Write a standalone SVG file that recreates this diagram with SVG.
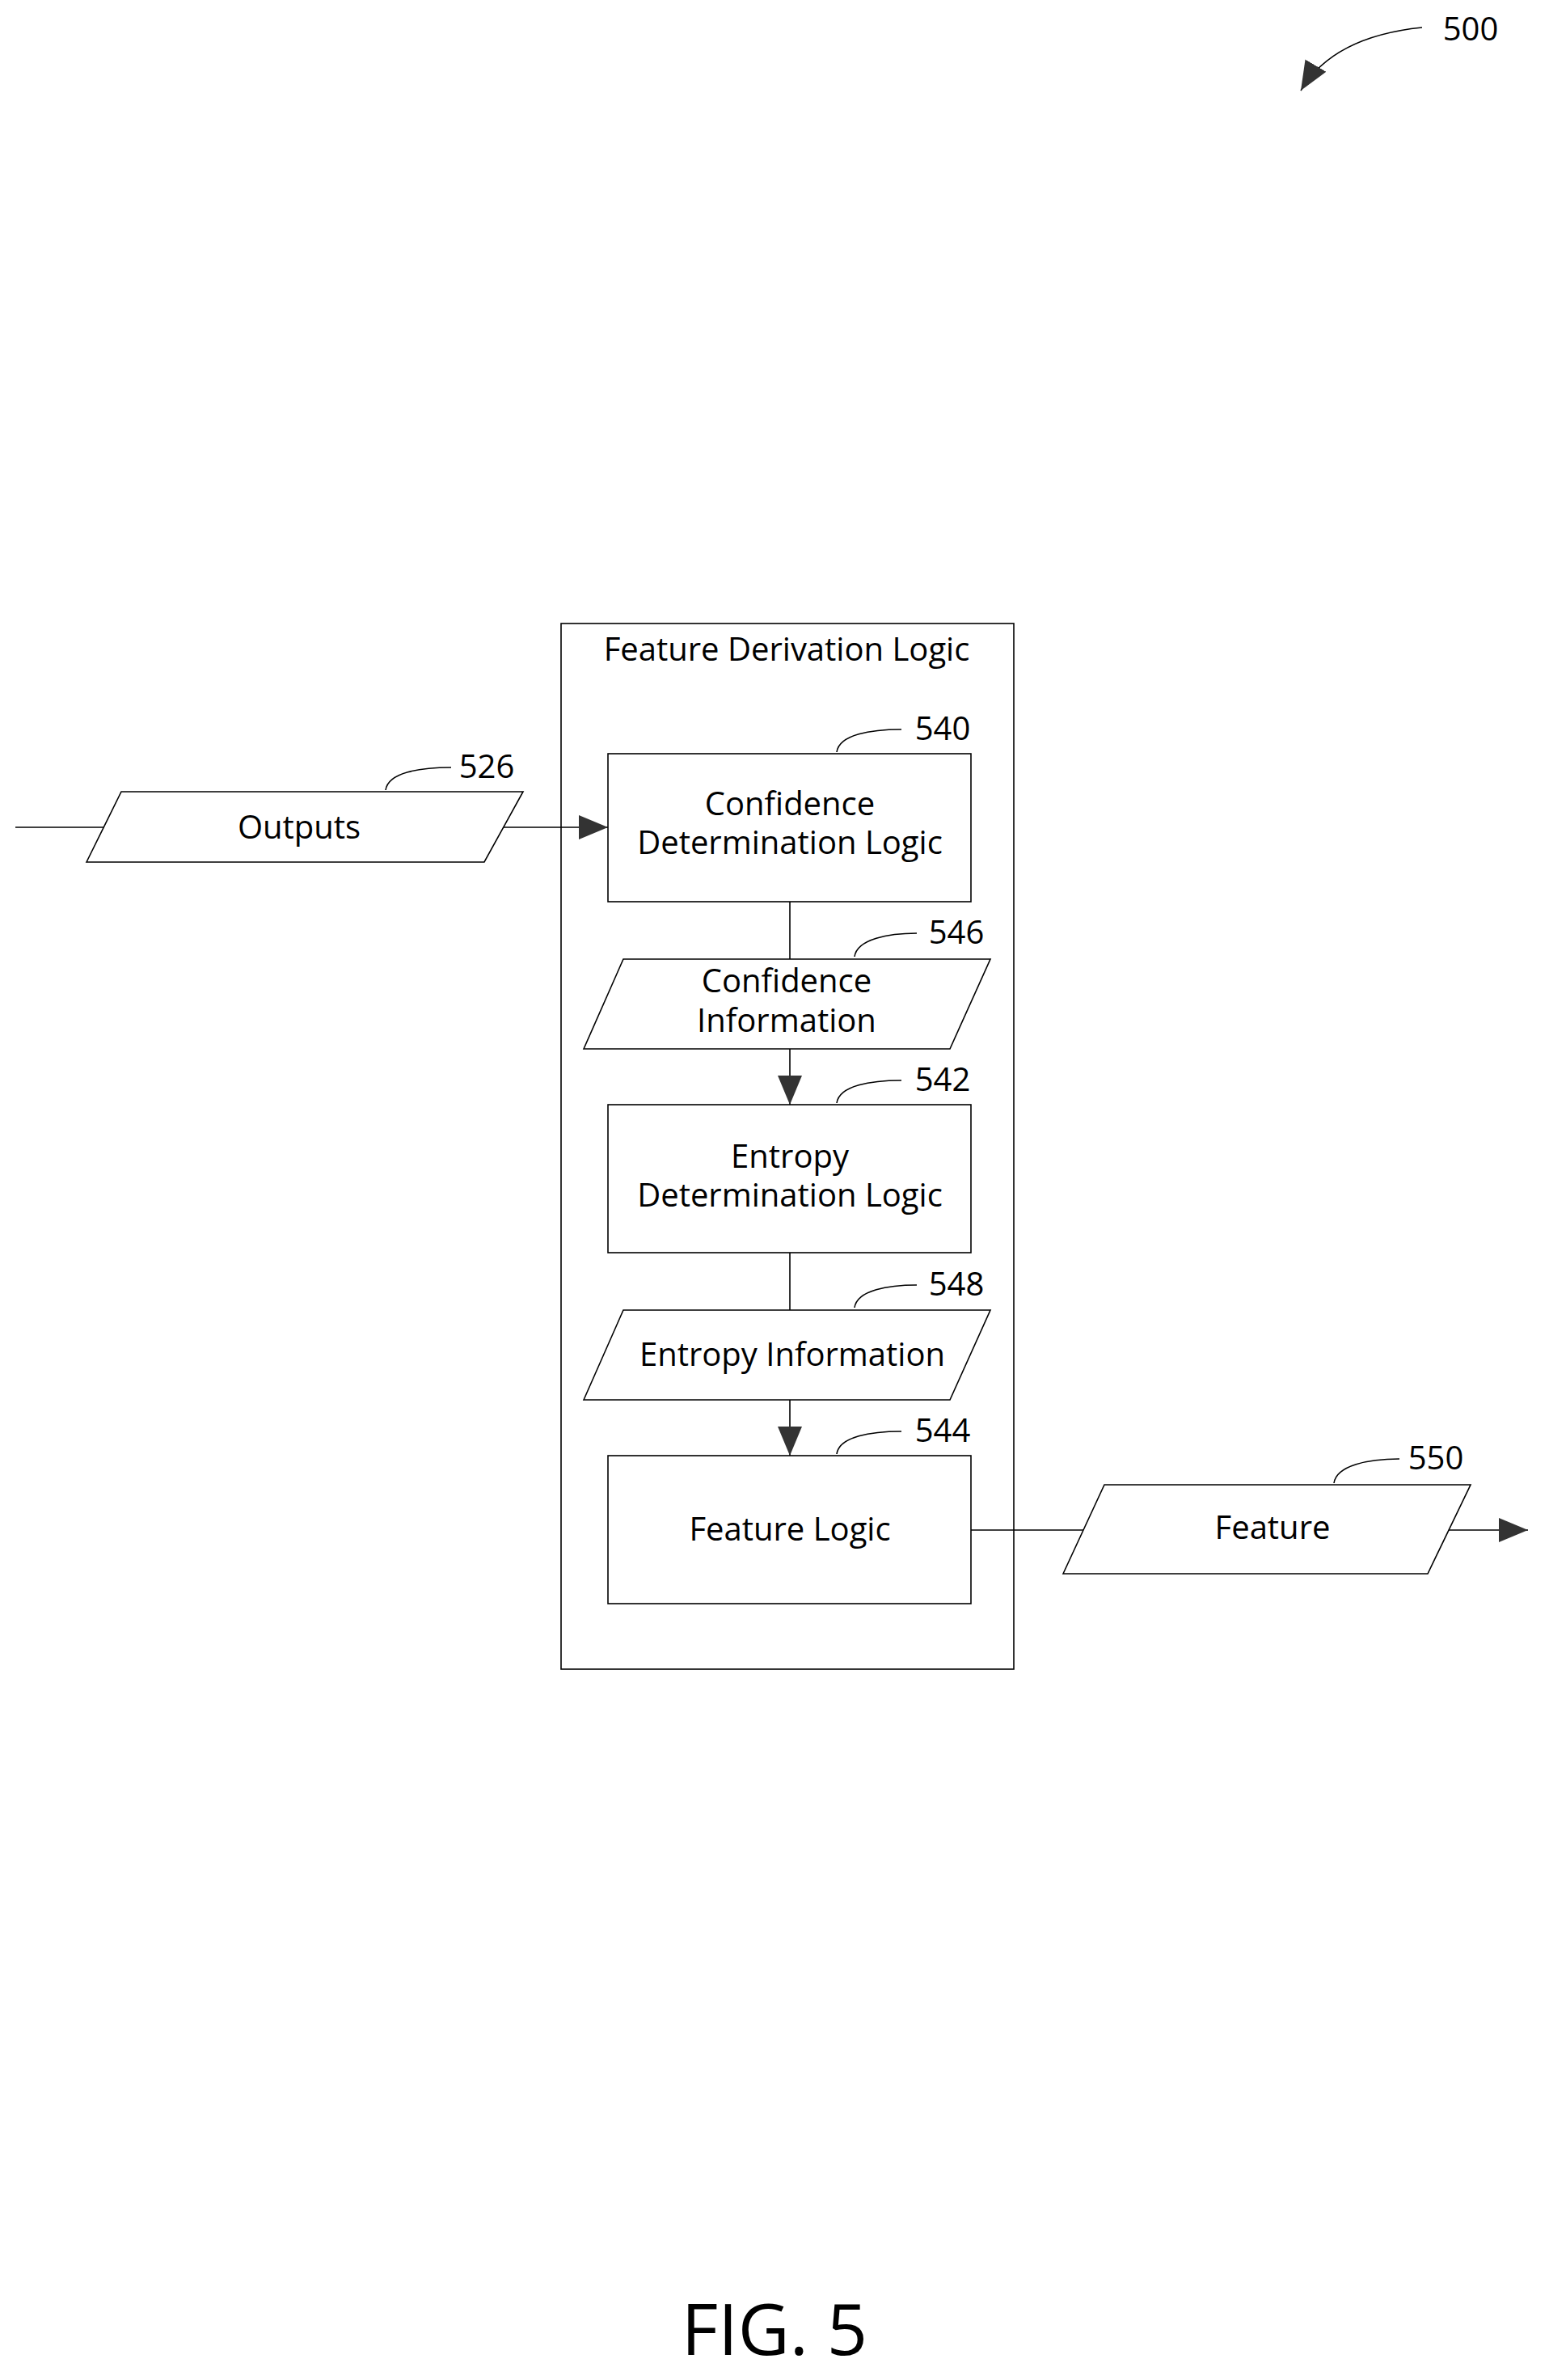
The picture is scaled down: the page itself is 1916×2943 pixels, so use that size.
<svg xmlns="http://www.w3.org/2000/svg" width="1916" height="2943" viewBox="0 0 1916 2943">
<style>
.s{fill:none;stroke:#000;stroke-width:1.6}
.b{fill:#fff;stroke:#000;stroke-width:1.6}
.t{font-family:"Open Sans","Liberation Sans",sans-serif;font-size:40px;text-anchor:middle;fill:#000}
</style>
<defs>
<marker id="A" markerWidth="36" markerHeight="30" refX="36" refY="15" orient="auto" markerUnits="userSpaceOnUse"><path d="M0,0L36,15L0,30z" fill="#333"/></marker></defs>
<rect width="1916" height="2943" fill="#fff"/>
<g id="connectors">
<line class="s" x1="19" y1="1023" x2="128" y2="1023"/>
<line class="s" x1="623" y1="1023" x2="752" y2="1023" marker-end="url(#A)"/>
<line class="s" x1="977" y1="1115" x2="977" y2="1186"/>
<line class="s" x1="977" y1="1297" x2="977" y2="1366" marker-end="url(#A)"/>
<line class="s" x1="977" y1="1549" x2="977" y2="1620"/>
<line class="s" x1="977" y1="1731" x2="977" y2="1800" marker-end="url(#A)"/>
<line class="s" x1="1201" y1="1892" x2="1340" y2="1892"/>
<line class="s" x1="1792" y1="1892" x2="1890" y2="1892" marker-end="url(#A)"/>
<path class="s" d="M1759,34 C1700,40 1640,60 1609,112" marker-end="url(#A)"/>
<path class="s" d="M477,977 C480,955 520,949 558,949"/>
<path class="s" d="M1035,930 C1038,908 1078,902 1115,902"/>
<path class="s" d="M1057,1183 C1060,1161 1100,1154 1134,1154"/>
<path class="s" d="M1035,1364 C1038,1342 1078,1336 1115,1336"/>
<path class="s" d="M1057,1617 C1060,1595 1100,1589 1134,1589"/>
<path class="s" d="M1035,1798 C1038,1776 1078,1770 1115,1770"/>
<path class="s" d="M1650,1834 C1653,1812 1693,1804 1731,1804"/>
</g>
<g id="n500"><text class="t" x="1819" y="50">500</text></g>
<g id="fdl"><rect class="s" x="694" y="771" width="560" height="1293"/><text class="t" x="973" y="817">Feature Derivation Logic</text></g>
<g id="n526"><polygon class="b" points="107,1066 150,979 647,979 599,1066"/><text class="t" x="370" y="1037">Outputs</text><text class="t" x="602" y="962">526</text></g>
<g id="n540"><rect class="b" x="752" y="932" width="449" height="183"/><text class="t" x="977" y="1008">Confidence</text><text class="t" x="977" y="1056">Determination Logic</text><text class="t" x="1166" y="915">540</text></g>
<g id="n546"><polygon class="b" points="722,1297 771,1186 1225,1186 1175,1297"/><text class="t" x="973" y="1227">Confidence</text><text class="t" x="973" y="1276">Information</text><text class="t" x="1183" y="1167">546</text></g>
<g id="n542"><rect class="b" x="752" y="1366" width="449" height="183"/><text class="t" x="977" y="1444">Entropy</text><text class="t" x="977" y="1492">Determination Logic</text><text class="t" x="1166" y="1349">542</text></g>
<g id="n548"><polygon class="b" points="722,1731 771,1620 1225,1620 1175,1731"/><text class="t" x="980" y="1689">Entropy Information</text><text class="t" x="1183" y="1602">548</text></g>
<g id="n544"><rect class="b" x="752" y="1800" width="449" height="183"/><text class="t" x="977" y="1905">Feature Logic</text><text class="t" x="1166" y="1783">544</text></g>
<g id="n550"><polygon class="b" points="1315,1946 1366,1836 1819,1836 1766,1946"/><text class="t" x="1574" y="1903">Feature</text><text class="t" x="1776" y="1817">550</text></g>
<text class="t" x="958" y="2912" style="font-size:88px">FIG. 5</text>
</svg>
